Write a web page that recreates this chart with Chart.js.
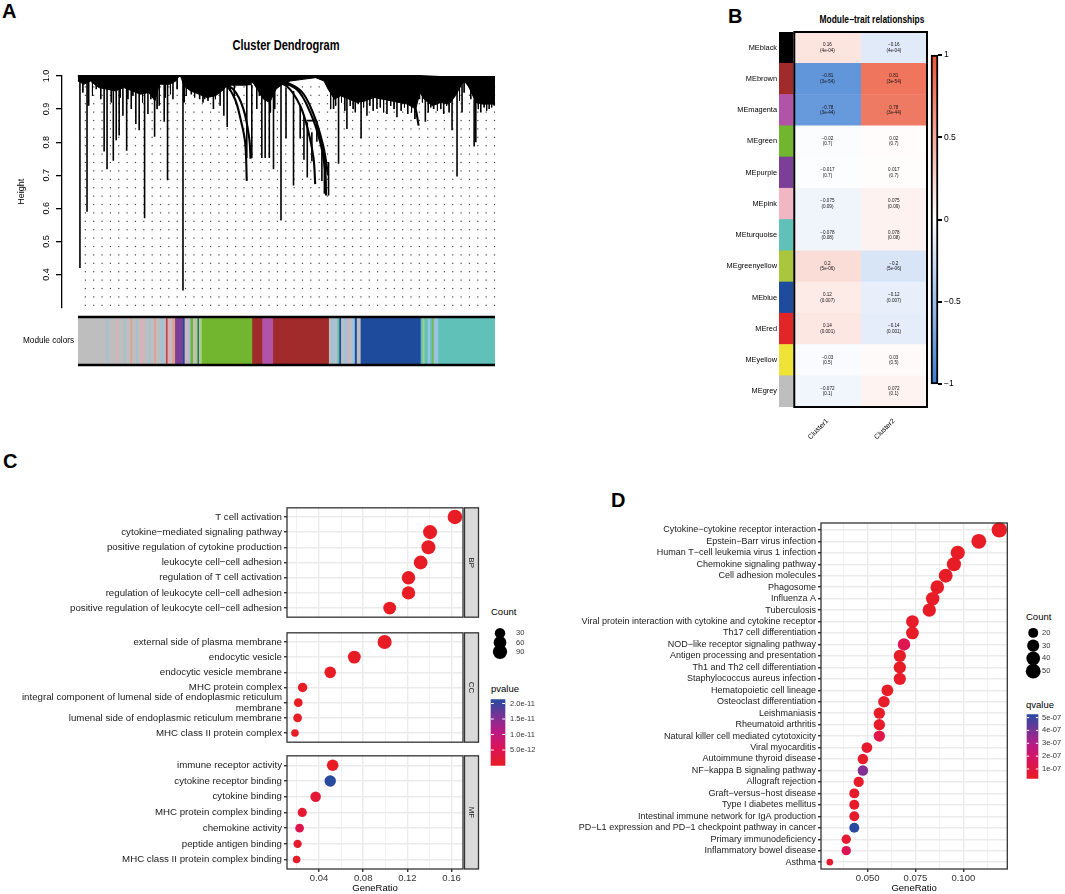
<!DOCTYPE html>
<html>
<head>
<meta charset="utf-8">
<title>WGCNA modules and enrichment</title>
<script src="https://cdn.jsdelivr.net/npm/chart.js@4.4.1/dist/chart.umd.min.js"></script>
<style>
  body { margin: 0; width: 1065px; height: 894px; position: relative; overflow: hidden; background: #fff;
         font-family: "Liberation Sans", Arial, sans-serif; color: #000; }
  canvas { position: absolute; }
  .txt { position: absolute; white-space: nowrap; line-height: 1; }
  .letter { font-weight: bold; font-size: 20px; }
</style>
</head>
<body>
<div class="txt letter" style="left:2px;top:1px">A</div>
<div class="txt letter" style="left:728px;top:6px">B</div>
<div class="txt letter" style="left:3px;top:451px">C</div>
<div class="txt letter" style="left:611px;top:490px">D</div>
<div class="txt" style="left:286px;top:38px;font-size:14px;font-weight:bold;transform:translateX(-50%) scaleX(0.79)">Cluster Dendrogram</div>
<div class="txt" style="left:872px;top:14px;font-size:10.5px;font-weight:bold;transform:translateX(-50%) scaleX(0.8)">Module−trait relationships</div>
<div class="txt" style="left:491px;top:607px;font-size:9.5px">Count</div>
<div class="txt" style="left:491px;top:684px;font-size:9.5px">pvalue</div>
<div class="txt" style="left:1026px;top:612px;font-size:9.5px">Count</div>
<div class="txt" style="left:1026px;top:700px;font-size:9.5px">qvalue</div>

<canvas id="dendro" width="500" height="256" style="left:0;top:60px"></canvas>
<canvas id="modules" width="500" height="66" style="left:0;top:308px"></canvas>
<canvas id="heat" width="216" height="420" style="left:715px;top:25px"></canvas>
<canvas id="heatKey" width="44" height="345" style="left:926px;top:48px"></canvas>
<canvas id="bp" width="481" height="125" style="left:0;top:500px"></canvas>
<canvas id="cc" width="481" height="125" style="left:0;top:625px"></canvas>
<canvas id="mf" width="481" height="146" style="left:0;top:748px"></canvas>
<canvas id="goCount" width="47" height="55" style="left:485px;top:615px"></canvas>
<canvas id="goP" width="60" height="85" style="left:485px;top:690px"></canvas>
<canvas id="kegg" width="440" height="379" style="left:575px;top:515px"></canvas>
<canvas id="keggCount" width="44" height="66" style="left:1020px;top:619px"></canvas>
<canvas id="keggQ" width="44" height="81" style="left:1021px;top:706px"></canvas>

<script>
// ---------- A: cluster dendrogram (x = leaf order in %, y = height) ----------
const heightTicks = [0.4, 0.5, 0.6, 0.7, 0.8, 0.9, 1.0];
const topX = [0, 82, 100];
const topY = [1.0, 1.0, 0.988];
const massX = [0, 1.5, 3, 5, 7, 9, 11, 13, 15, 17, 18.5, 19.5, 22, 23.5, 24.3, 24.6, 25.5, 27, 29, 31,
  33, 35, 36, 38, 40, 42, 43, 44.5, 46, 47.5, 49, 51, 54, 57, 59, 60, 61.5, 63, 65, 67,
  69, 71, 73, 75, 77, 79, 81, 82, 83, 85, 87, 89, 90.5, 92, 93, 94, 95.5, 97, 99, 100];
const massLow = [0.985, 0.975, 0.985, 0.965, 0.96, 0.955, 0.965, 0.955, 0.945, 0.95, 0.925, 0.975, 0.975, 0.985, 1.0, 1.0, 0.97, 0.955, 0.945, 0.935,
  0.94, 0.96, 0.975, 0.975, 0.975, 0.98, 0.96, 0.93, 0.92, 0.96, 0.975, 0.985, 0.99, 0.995, 0.985, 0.96, 0.93, 0.94, 0.93, 0.92,
  0.925, 0.935, 0.93, 0.925, 0.92, 0.915, 0.9, 0.95, 0.93, 0.91, 0.92, 0.915, 0.94, 0.975, 0.985, 0.96, 0.92, 0.915, 0.915, 0.915];
const dropX = [0.5, 2.2, 2.6, 4.4, 6.3, 7.0, 8.5, 9.2, 9.9, 10.8, 11.7, 12.8, 13.9, 14.7, 16.0, 16.8, 18.4, 19.5, 20.7, 21.5,
  22.8, 25.2, 25.5, 27.2, 29.2, 30.4, 32.5, 34.1, 35.0, 35.8, 40.5, 41.7, 42.9, 44.1, 44.9, 45.9, 46.9, 48.7, 49.9, 51.7,
  53.3, 54.2, 55.0, 56.1, 57.3, 58.5, 59.1, 60.1, 61.3, 62.5, 64.5, 66.5, 67.9, 69.3, 71.7, 74.1, 76.5, 79.1, 81.9, 83.3,
  85.3, 87.7, 89.7, 90.9, 92.1, 95.0, 95.4, 96.6, 98.6, 99.8];
const dropHigh = [0.995, 0.995, 0.995, 0.995, 0.995, 0.995, 0.995, 0.995, 0.995, 0.995, 0.995, 0.995, 0.995, 0.995, 0.995, 0.995, 0.995, 0.995, 0.995, 0.995,
  0.995, 0.995, 0.995, 0.995, 0.995, 0.995, 0.995, 0.995, 0.995, 0.97, 0.973, 0.973, 0.995, 0.995, 0.995, 0.995, 0.995, 0.975, 0.965, 0.955,
  0.91, 0.88, 0.86, 0.83, 0.865, 0.80, 0.75, 0.74, 0.995, 0.995, 0.995, 0.995, 0.995, 0.995, 0.995, 0.995, 0.995, 0.94, 0.988, 0.995,
  0.995, 0.995, 0.995, 0.995, 0.995, 0.93, 0.93, 0.995, 0.995, 0.995];
const dropLow = [0.420, 0.590, 0.91, 0.96, 0.772, 0.718, 0.744, 0.806, 0.82, 0.88, 0.774, 0.90, 0.855, 0.836, 0.570, 0.885, 0.816, 0.91, 0.862, 0.685,
  0.93, 0.352, 0.92, 0.944, 0.93, 0.93, 0.90, 0.91, 0.88, 0.846, 0.752, 0.752, 0.90, 0.752, 0.752, 0.752, 0.718, 0.563, 0.811, 0.669,
  0.811, 0.747, 0.693, 0.742, 0.801, 0.683, 0.644, 0.639, 0.90, 0.735, 0.84, 0.89, 0.811, 0.88, 0.90, 0.885, 0.875, 0.885, 0.93, 0.862,
  0.90, 0.885, 0.836, 0.696, 0.89, 0.787, 0.80, 0.89, 0.90, 0.91];
// thin hair branches hanging from the dense top band
const hairX = [1.2, 3.5, 5.5, 8.0, 10.2, 12.0, 13.2, 15.5, 17.5, 19.0, 21.0, 22.2, 23.8, 26.0, 28.0, 30.0, 31.2, 33.0, 36.5, 37.5,
  43.5, 46.2, 47.2, 60.6, 61.8, 63.2, 64.0, 65.3, 66.0, 67.2, 68.5, 70.0, 70.8, 72.5, 73.3, 75.0, 75.8, 77.5, 78.3, 80.0,
  80.8, 82.6, 84.0, 84.6, 86.2, 87.0, 88.4, 89.0, 91.5, 92.6, 94.2, 96.0, 97.4, 98.0, 99.2];
const hairLow = [0.95, 0.94, 0.93, 0.92, 0.935, 0.93, 0.94, 0.92, 0.93, 0.90, 0.935, 0.945, 0.96, 0.94, 0.935, 0.92, 0.925, 0.93, 0.955, 0.94,
  0.94, 0.89, 0.9, 0.9, 0.91, 0.92, 0.895, 0.91, 0.9, 0.915, 0.905, 0.91, 0.895, 0.905, 0.89, 0.91, 0.9, 0.895, 0.905, 0.89,
  0.87, 0.92, 0.89, 0.905, 0.895, 0.9, 0.91, 0.89, 0.925, 0.95, 0.93, 0.9, 0.905, 0.895, 0.905];
const mergeFrom = [35.5, 36.0, 71.7, 74.8, 54.8];
const mergeTo = [40.5, 41.7, 81.9, 81.9, 57.3];
const mergeAt = [0.973, 0.975, 0.988, 0.976, 0.865];
const arcPaths = [
  [[31.6, 0.993], [35.7, 0.969], [37.7, 0.929], [39.0, 0.87], [40.1, 0.80], [40.5, 0.683]],
  [[33.3, 0.988], [37.3, 0.959], [39.7, 0.90], [41.1, 0.81], [41.4, 0.75]],
  [[45.3, 0.993], [50.1, 0.969], [53.3, 0.91], [55.3, 0.83], [56.5, 0.752], [56.9, 0.673]],
  [[46.9, 0.99], [52.5, 0.959], [55.7, 0.89], [58.1, 0.80], [59.3, 0.713], [59.5, 0.639]],
  [[48.5, 0.99], [53.5, 0.955], [56.5, 0.885], [58.8, 0.79], [60.0, 0.70]],
  [[71.7, 0.996], [77.3, 0.969], [80.5, 0.919], [81.7, 0.85]],
  [[92.5, 0.99], [94.0, 0.965], [95.2, 0.93]]
];

// module colour bar under the tree (width in % of leaves)
const moduleWidths = [6.8, 0.4, 2.0, 0.3, 1.5, 0.3, 1.2, 0.4, 1.0, 0.3, 0.8, 0.5, 1.5, 0.4, 0.8, 0.4, 1.2, 0.6, 0.6, 0.4,
  0.5, 0.6, 0.7, 1.9, 0.4, 0.5, 0.4, 0.5, 0.6, 0.6, 0.5, 0.3, 0.7, 12.1, 2.4, 2.6, 13.4, 0.6, 0.8, 0.6,
  0.5, 0.4, 0.7, 0.8, 0.3, 0.8, 0.7, 0.5, 0.9, 14.4, 0.5, 0.4, 0.8, 0.6, 0.5, 0.3, 1.1, 13.7];
const moduleColors = ['grey', 'ltblue', 'grey', 'pink', 'grey', 'ltblue', 'grey', 'salmon', 'grey', 'ltblue', 'grey', 'pink', 'grey', 'ltblue', 'grey', 'salmon', 'grey', 'ltblue', 'grey', 'redbrown',
  'pink', 'grey', 'salmon', 'purple', 'blue', 'grey', 'pink', 'ltblue', 'green', 'grey', 'ltgreen', 'blue', 'ltgreen', 'green', 'brown', 'magenta', 'brown', 'grey', 'ltblue', 'grey',
  'turquoise', 'blue', 'grey', 'ltblue', 'pink', 'grey', 'ltblue', 'blue', 'grey', 'blue', 'turquoise', 'ltgreen', 'turquoise', 'ltblue', 'turquoise', 'green', 'ltblue', 'turquoise'];
const paletteHex = { grey: '#BEBEBE', ltblue: '#9CC2DC', pink: '#E6A9B9', salmon: '#DFA08E', redbrown: '#B5494A', purple: '#7B3F98',
  blue: '#1F4B9D', green: '#72B62F', ltgreen: '#A9D07A', brown: '#A12A2B', magenta: '#B154A7', turquoise: '#60C1B8' };

// ---------- B: module-trait relationships ----------
const modules = ['MEblack', 'MEbrown', 'MEmagenta', 'MEgreen', 'MEpurple', 'MEpink', 'MEturquoise', 'MEgreenyellow', 'MEblue', 'MEred', 'MEyellow', 'MEgrey'];
const moduleSwatch = ['#000000', '#A12A2B', '#B154A7', '#72B62F', '#7B3F98', '#F2B6C4', '#60C1B8', '#A9C63C', '#1F4B9D', '#E22526', '#EFE337', '#BEBEBE'];
const traits = ['Cluster1', 'Cluster2'];
const corCluster1 = [0.16, -0.81, -0.78, -0.02, -0.017, -0.075, -0.078, 0.2, 0.12, 0.14, -0.03, -0.072];
const corCluster2 = [-0.16, 0.81, 0.78, 0.02, 0.017, 0.075, 0.078, -0.2, -0.12, -0.14, 0.03, 0.072];
const pCluster = ['4e-04', '3e-54', '3e-44', '0.7', '0.7', '0.09', '0.08', '5e-06', '0.007', '0.001', '0.5', '0.1'];
const corTicks = [-1, -0.5, 0, 0.5, 1];

// ---------- C: GO enrichment ----------
const bpTerms = ['T cell activation', 'cytokine−mediated signaling pathway', 'positive regulation of cytokine production',
  'leukocyte cell−cell adhesion', 'regulation of T cell activation', 'regulation of leukocyte cell−cell adhesion',
  'positive regulation of leukocyte cell−cell adhesion'];
const bpRatio = [0.163, 0.1405, 0.139, 0.132, 0.121, 0.121, 0.104];
const bpCount = [97, 84, 83, 79, 72, 72, 62];
const bpP = [1e-45, 1e-38, 1e-37, 1e-36, 1e-35, 1e-34, 1e-30];
const ccTerms = ['external side of plasma membrane', 'endocytic vesicle', 'endocytic vesicle membrane', 'MHC protein complex',
  ['integral component of lumenal side of endoplasmic reticulum', 'membrane'], 'lumenal side of endoplasmic reticulum membrane',
  'MHC class II protein complex'];
const ccRatio = [0.0994, 0.072, 0.0502, 0.0252, 0.0213, 0.0207, 0.0183];
const ccCount = [86, 62, 43, 22, 18, 18, 16];
const ccP = [1e-30, 1e-22, 1e-18, 1e-19, 1e-16, 1e-16, 1e-15];
const mfTerms = ['immune receptor activity', 'cytokine receptor binding', 'cytokine binding', 'MHC protein complex binding',
  'chemokine activity', 'peptide antigen binding', 'MHC class II protein complex binding'];
const mfRatio = [0.0524, 0.0502, 0.037, 0.0249, 0.0225, 0.0207, 0.0198];
const mfCount = [43, 41, 30, 20, 18, 17, 16];
const mfP = [1e-16, 2.13e-11, 2e-12, 1.5e-12, 4.5e-12, 8e-13, 6e-13];
const goGrid = [0.02, 0.04, 0.06, 0.08, 0.10, 0.12, 0.14, 0.16];
const goMajor = [0.04, 0.08, 0.12, 0.16];
const countBreaksGO = [30, 60, 90];
const pBreaks = [5e-12, 1e-11, 1.5e-11, 2e-11];

// ---------- D: KEGG enrichment ----------
const keggTerms = ['Cytokine−cytokine receptor interaction', 'Epstein−Barr virus infection', 'Human T−cell leukemia virus 1 infection',
  'Chemokine signaling pathway', 'Cell adhesion molecules', 'Phagosome', 'Influenza A', 'Tuberculosis',
  'Viral protein interaction with cytokine and cytokine receptor', 'Th17 cell differentiation', 'NOD−like receptor signaling pathway',
  'Antigen processing and presentation', 'Th1 and Th2 cell differentiation', 'Staphylococcus aureus infection',
  'Hematopoietic cell lineage', 'Osteoclast differentiation', 'Leishmaniasis', 'Rheumatoid arthritis',
  'Natural killer cell mediated cytotoxicity', 'Viral myocarditis', 'Autoimmune thyroid disease', 'NF−kappa B signaling pathway',
  'Allograft rejection', 'Graft−versus−host disease', 'Type I diabetes mellitus', 'Intestinal immune network for IgA production',
  'PD−L1 expression and PD−1 checkpoint pathway in cancer', 'Primary immunodeficiency', 'Inflammatory bowel disease', 'Asthma'];
const keggRatio = [0.1188, 0.1081, 0.0971, 0.0951, 0.0908, 0.0864, 0.0840, 0.0822, 0.0734, 0.0734, 0.0690, 0.0668, 0.0668, 0.0668, 0.0603,
  0.0585, 0.0561, 0.0561, 0.0561, 0.0496, 0.0475, 0.0475, 0.0453, 0.0430, 0.0430, 0.0430, 0.0430, 0.0388, 0.0388, 0.0302];
const keggCount = [55, 50, 45, 44, 42, 40, 39, 38, 34, 34, 32, 31, 31, 31, 28, 27, 26, 26, 26, 23, 22, 22, 21, 20, 20, 20, 20, 18, 18, 14];
const keggQ = [2.6e-8, 3e-8, 3e-8, 3e-8, 3e-8, 3e-8, 3e-8, 3e-8, 4e-8, 3e-8, 1.4e-7, 3e-8, 3e-8, 4e-8, 3e-8,
  4e-8, 3e-8, 4e-8, 1.2e-7, 5e-8, 4e-8, 3.8e-7, 4e-8, 4e-8, 4e-8, 5e-8, 5.24e-7, 6e-8, 1.5e-7, 6e-8];
const keggGrid = [0.0375, 0.05, 0.0625, 0.075, 0.0875, 0.1, 0.1125];
const keggMajor = [0.05, 0.075, 0.1];
const countBreaksKegg = [20, 30, 40, 50];
const qBreaks = [1e-7, 2e-7, 3e-7, 4e-7, 5e-7];

// ---------- helpers ----------
Chart.defaults.font.family = '"Liberation Sans", Arial, sans-serif';
Chart.defaults.color = '#000';
const probe = document.createElement('canvas').getContext('2d');
function fontExists(name) {
  probe.font = '30px monospace';
  const base = probe.measureText('Module colors 0.5').width;
  probe.font = '30px "' + name + '", monospace';
  return probe.measureText('Module colors 0.5').width !== base;
}
const hasNarrow = fontExists('Liberation Sans Narrow');
const NARROW = hasNarrow ? '"Liberation Sans Narrow", sans-serif' : '"Liberation Sans", sans-serif';
const nk = hasNarrow ? 1 : 0.82;

const base = { responsive: false, animation: false, events: [] };
const noLegend = { legend: { display: false }, tooltip: { enabled: false } };
const minus = v => String(v).replace('-', '−');
const near = (list, v) => list.some(m => Math.abs(m - v) < 1e-9);

const corRed = [235, 85, 55], corBlue = [60, 125, 210];
function corColor(v) {
  const end = v > 0 ? corRed : corBlue, a = Math.abs(v);
  return 'rgb(' + end.map(c => Math.round(255 + (c - 255) * a)).join(',') + ')';
}
const rampStops = [[232, 28, 36], [220, 20, 85], [190, 25, 130], [120, 50, 150], [40, 75, 160]];
function ramp(t) {
  t = Math.max(0, Math.min(1, t));
  const s = t * (rampStops.length - 1), i = Math.min(Math.floor(s), rampStops.length - 2), f = s - i;
  return 'rgb(' + rampStops[i].map((c, k) => Math.round(c + (rampStops[i + 1][k] - c) * f)).join(',') + ')';
}
function rampGradient(ctx) {
  const a = ctx.chart.chartArea;
  if (!a) return '#e41a1c';
  const g = ctx.chart.ctx.createLinearGradient(0, a.bottom, 0, a.top);
  rampStops.forEach((c, i) => g.addColorStop(i / (rampStops.length - 1), 'rgb(' + c.join(',') + ')'));
  return g;
}
function dotRadius(c, cmin, cmax, rmin, rmax) {
  return rmin + (rmax - rmin) * Math.sqrt((c - cmin) / (cmax - cmin));
}
const goCounts = bpCount.concat(ccCount, mfCount);
const goCmin = Math.min(...goCounts), goCmax = Math.max(...goCounts);
const radiusGO = c => dotRadius(c, goCmin, goCmax, 3.8, 7.3);
const radiusKegg = c => dotRadius(c, Math.min(...keggCount), Math.max(...keggCount), 3.3, 7.7);
const goP = bpP.concat(ccP, mfP);
const pMin = Math.min(...goP), pMax = Math.max(...goP);
const qMin = Math.min(...keggQ), qMax = Math.max(...keggQ);

// ---------- plugins ----------
const dotTexture = {
  id: 'dotTexture',
  beforeDatasetsDraw(chart) {
    const { ctx, chartArea: a, scales: { x, y } } = chart;
    ctx.save();
    ctx.fillStyle = '#444';
    for (let px = x.getPixelForValue(1.8); px < a.right; px += 8.35) {
      for (let py = y.getPixelForValue(0.967); py < a.bottom - 2; py += 8.4) ctx.fillRect(px - 0.6, py - 0.6, 1.2, 1.2);
    }
    ctx.restore();
  }
};
const barEdges = {
  id: 'barEdges',
  afterDraw(chart) {
    const { ctx, chartArea: a } = chart;
    ctx.save();
    ctx.strokeStyle = '#000';
    ctx.lineWidth = 2.5;
    ctx.beginPath();
    ctx.moveTo(a.left, a.top); ctx.lineTo(a.right, a.top);
    ctx.moveTo(a.left, a.bottom); ctx.lineTo(a.right, a.bottom);
    ctx.stroke();
    ctx.restore();
  }
};
const cellText = {
  id: 'cellText',
  afterDatasetsDraw(chart) {
    const { ctx, chartArea: a, scales: { x } } = chart;
    ctx.save();
    ctx.fillStyle = '#111';
    ctx.font = '4.6px "Liberation Sans", sans-serif';
    ctx.textAlign = 'center';
    ctx.textBaseline = 'middle';
    [corCluster1, corCluster2].forEach((vals, d) => {
      chart.getDatasetMeta(d + 1).data.forEach((bar, i) => {
        const c = bar.getCenterPoint();
        ctx.fillText(minus(vals[i]), c.x, c.y - 2.8);
        ctx.fillText('(' + pCluster[i] + ')', c.x, c.y + 2.8);
      });
    });
    const x0 = x.getPixelForValue(0), x1 = x.getPixelForValue(traits.length);
    ctx.strokeStyle = '#000';
    ctx.lineWidth = 2;
    ctx.strokeRect(x0, a.top, x1 - x0, a.bottom - a.top);
    ctx.restore();
  }
};
const facetStrip = {
  id: 'facetStrip',
  afterDraw(chart, args, opts) {
    const { ctx, chartArea: a } = chart;
    ctx.save();
    ctx.strokeStyle = '#333';
    ctx.lineWidth = 1.3;
    ctx.strokeRect(a.left, a.top, a.right - a.left, a.bottom - a.top);
    if (opts.text) {
      ctx.fillStyle = '#D9D9D9';
      ctx.fillRect(a.right + 1.5, a.top, 14, a.bottom - a.top);
      ctx.strokeRect(a.right + 1.5, a.top, 14, a.bottom - a.top);
      ctx.translate(a.right + 8.5, (a.top + a.bottom) / 2);
      ctx.rotate(Math.PI / 2);
      ctx.fillStyle = '#1A1A1A';
      ctx.font = '8px "Liberation Sans", sans-serif';
      ctx.textAlign = 'center';
      ctx.textBaseline = 'middle';
      ctx.fillText(opts.text, 0, 0);
    }
    ctx.restore();
  }
};
const barTicks = {
  id: 'barTicks',
  afterDatasetsDraw(chart) {
    const { ctx, chartArea: a, scales: { y } } = chart;
    const w = (a.right - a.left) / 5;
    ctx.save();
    ctx.strokeStyle = '#fff';
    ctx.lineWidth = 1;
    y.ticks.forEach(t => {
      const py = y.getPixelForValue(t.value);
      ctx.beginPath();
      ctx.moveTo(a.left, py); ctx.lineTo(a.left + w, py);
      ctx.moveTo(a.right - w, py); ctx.lineTo(a.right, py);
      ctx.stroke();
    });
    ctx.restore();
  }
};

// ---------- A charts ----------
function segments(xs, highs, lows) {
  const out = [];
  xs.forEach((x, i) => out.push({ x, y: highs[i] }, { x, y: lows[i] }, { x, y: null }));
  return out;
}
const arcPoints = [];
arcPaths.forEach(p => { p.forEach(([x, y]) => arcPoints.push({ x, y })); arcPoints.push({ x: p[0][0], y: null }); });
const mergePoints = [];
mergeFrom.forEach((x, i) => mergePoints.push({ x, y: mergeAt[i] }, { x: mergeTo[i], y: mergeAt[i] }, { x, y: null }));

new Chart(document.getElementById('dendro'), {
  type: 'scatter',
  data: {
    datasets: [
      { type: 'line', data: massX.map((x, i) => ({ x, y: massLow[i] })), fill: { value: 1.0 }, backgroundColor: '#000',
        borderColor: '#000', borderWidth: 1, pointRadius: 0, tension: 0, clip: false },
      { data: topX.map((x, i) => ({ x, y: topY[i] })), showLine: true, borderColor: '#000', borderWidth: 2.2, pointRadius: 0, clip: false },
      { data: segments(hairX, hairX.map(() => 0.995), hairLow), showLine: true, borderColor: '#000', borderWidth: 1, pointRadius: 0, clip: false },
      { data: segments(dropX, dropHigh, dropLow), showLine: true, borderColor: '#000', borderWidth: 1.6, pointRadius: 0, clip: false },
      { data: arcPoints, showLine: true, borderColor: '#000', borderWidth: 2.1, tension: 0.35, pointRadius: 0, clip: false },
      { data: mergePoints, showLine: true, borderColor: '#000', borderWidth: 1.8, pointRadius: 0, clip: false }
    ]
  },
  options: {
    ...base,
    layout: { padding: { top: 16, right: 5, bottom: 3 } },
    plugins: noLegend,
    scales: {
      x: { display: false, min: -3.8, max: 100 },
      y: {
        min: 0.3, max: 1.0,
        afterBuildTicks: s => { s.ticks = heightTicks.map(v => ({ value: v })); },
        ticks: { callback: v => v.toFixed(1), minRotation: 90, maxRotation: 90, crossAlign: 'center',
          font: { family: NARROW, size: 11 * nk }, color: '#000', padding: 3 },
        grid: { drawOnChartArea: false, drawTicks: true, tickLength: 6, color: '#000', lineWidth: 1.3 },
        border: { display: true, color: '#000', width: 1.3 },
        title: { display: true, text: 'Height', font: { family: NARROW, size: 11 * nk }, color: '#000', padding: { top: 16, bottom: 0 } },
        afterFit: s => { s.width = 62; }
      }
    }
  },
  plugins: [dotTexture]
});

new Chart(document.getElementById('modules'), {
  type: 'bar',
  data: {
    labels: ['Module colors'],
    datasets: moduleWidths.map((w, i) => ({ data: [w], backgroundColor: paletteHex[moduleColors[i]],
      borderWidth: 0, barPercentage: 1, categoryPercentage: 1 }))
  },
  options: {
    ...base,
    indexAxis: 'y',
    layout: { padding: { top: 7, right: 5, bottom: 6 } },
    plugins: noLegend,
    scales: {
      x: { display: false, stacked: true, min: 0, max: 100 },
      y: { stacked: true, grid: { display: false, drawTicks: false }, border: { display: false },
        ticks: { font: { family: NARROW, size: 10 * nk }, color: '#000', padding: 4 },
        afterFit: s => { s.width = 78; } }
    }
  },
  plugins: [barEdges]
});

// ---------- B charts ----------
const bandOpts = { grouped: false, barPercentage: 1, categoryPercentage: 1, borderWidth: 0 };
new Chart(document.getElementById('heat'), {
  type: 'bar',
  data: {
    labels: modules,
    datasets: [
      { ...bandOpts, data: modules.map(() => [-0.23, -0.02]), backgroundColor: moduleSwatch },
      { ...bandOpts, data: modules.map(() => [0, 1]), backgroundColor: corCluster1.map(corColor) },
      { ...bandOpts, data: modules.map(() => [1, 2]), backgroundColor: corCluster2.map(corColor) }
    ]
  },
  options: {
    ...base,
    indexAxis: 'y',
    layout: { padding: { top: 7, right: 4 } },
    plugins: noLegend,
    scales: {
      x: {
        min: -0.23, max: traits.length,
        afterBuildTicks: s => { s.ticks = traits.map((t, i) => ({ value: i + 0.5 })); },
        ticks: { callback: (v, i) => traits[i], minRotation: 45, maxRotation: 45, autoSkip: false,
          font: { family: NARROW, size: 8.5 * nk }, color: '#000', padding: 2 },
        grid: { display: false }, border: { display: false },
        afterFit: s => { s.height = 38; }
      },
      y: {
        ticks: { autoSkip: false, font: { family: NARROW, size: 9 * nk }, color: '#000', padding: 2 },
        grid: { display: false, drawTicks: false }, border: { display: false },
        afterFit: s => { s.width = 64; }
      }
    }
  },
  plugins: [cellText]
});

new Chart(document.getElementById('heatKey'), {
  type: 'bar',
  data: {
    labels: ['r'],
    datasets: [{
      data: [[-1, 1]],
      backgroundColor: ctx => {
        const a = ctx.chart.chartArea;
        if (!a) return '#fff';
        const g = ctx.chart.ctx.createLinearGradient(0, a.bottom, 0, a.top);
        g.addColorStop(0, 'rgb(' + corBlue.join(',') + ')');
        g.addColorStop(0.5, '#fff');
        g.addColorStop(1, 'rgb(' + corRed.join(',') + ')');
        return g;
      },
      borderColor: '#000', borderWidth: 2, borderSkipped: false, barPercentage: 1, categoryPercentage: 1, clip: false
    }]
  },
  options: {
    ...base,
    layout: { padding: { left: 5, top: 7, bottom: 9 } },
    plugins: noLegend,
    scales: {
      x: { display: false },
      y: {
        position: 'right', min: -1, max: 1,
        afterBuildTicks: s => { s.ticks = corTicks.map(v => ({ value: v })); },
        ticks: { callback: v => minus(v), font: { size: 8.5 }, color: '#000', padding: 2 },
        grid: { drawOnChartArea: false, drawTicks: true, tickLength: 4, color: '#000', lineWidth: 2 },
        border: { display: false },
        afterFit: s => { s.width = 32; }
      }
    }
  }
});

// ---------- C charts ----------
function goPanel(id, terms, ratio, count, pval, strip, last, padTop) {
  return new Chart(document.getElementById(id), {
    type: 'scatter',
    data: {
      datasets: [{
        data: ratio.map((r, i) => ({ x: r, y: i + 1 })),
        pointRadius: count.map(radiusGO),
        pointBackgroundColor: pval.map(p => ramp((p - pMin) / (pMax - pMin))),
        pointBorderWidth: 0, clip: false
      }]
    },
    options: {
      ...base,
      layout: { padding: { top: padTop, bottom: last ? 0 : 2, right: 18 } },
      plugins: { ...noLegend, facetStrip: { text: strip } },
      scales: {
        x: {
          min: 0.0111, max: 0.1703,
          afterBuildTicks: s => { s.ticks = goGrid.map(v => ({ value: v })); },
          ticks: { display: last, autoSkip: false, maxRotation: 0, callback: v => near(goMajor, v) ? v.toFixed(2) : '',
            font: { size: 9.5 }, color: '#333', padding: 1 },
          grid: { color: '#EBEBEB', lineWidth: c => near(goMajor, c.tick.value) ? 1.4 : 0.7, drawTicks: last, tickLength: 3,
            tickColor: c => near(goMajor, c.tick.value) ? '#333' : 'rgba(0,0,0,0)' },
          border: { display: false },
          title: { display: last, text: 'GeneRatio', font: { size: 9.5 }, color: '#000', padding: { top: 1, bottom: 0 } },
          afterFit: s => { s.height = last ? 25 : 0; }
        },
        y: {
          min: 0.4, max: terms.length + 0.6, reverse: true,
          afterBuildTicks: s => { s.ticks = terms.map((t, i) => ({ value: i + 1 })); },
          ticks: { autoSkip: false, callback: v => terms[Math.round(v) - 1], font: { size: 9.7 }, color: '#1A1A1A', padding: 2 },
          grid: { color: '#EBEBEB', lineWidth: 1.4, drawTicks: true, tickLength: 3, tickColor: '#333' },
          border: { display: false },
          afterFit: s => { s.width = 287; }
        }
      }
    },
    plugins: [facetStrip]
  });
}
goPanel('bp', bpTerms, bpRatio, bpCount, bpP, 'BP', false, 6);
goPanel('cc', ccTerms, ccRatio, ccCount, ccP, 'CC', false, 4);
goPanel('mf', mfTerms, mfRatio, mfCount, mfP, 'MF', true, 4);

function countLegend(id, breaks, radiusFn, padLeft, padTop, labelPad) {
  return new Chart(document.getElementById(id), {
    type: 'scatter',
    data: { datasets: [{ data: breaks.map((b, i) => ({ x: 0, y: i + 1 })), pointRadius: breaks.map(radiusFn),
      pointBackgroundColor: '#000', pointBorderWidth: 0, clip: false }] },
    options: {
      ...base,
      layout: { padding: { left: padLeft, top: padTop, bottom: 3 } },
      plugins: noLegend,
      scales: {
        x: { display: false, min: -1, max: 1 },
        y: {
          position: 'right', min: 0.5, max: breaks.length + 0.5, reverse: true,
          afterBuildTicks: s => { s.ticks = breaks.map((b, i) => ({ value: i + 1 })); },
          ticks: { autoSkip: false, callback: v => breaks[Math.round(v) - 1], font: { size: 7.5 }, color: '#333', padding: labelPad },
          grid: { display: false, drawTicks: false }, border: { display: false },
          afterFit: s => { s.width = 25; }
        }
      }
    }
  });
}
function colourLegend(id, lo, hi, breaks, fmt, padLeft, padTop, padBottom, axisWidth, labelPad) {
  return new Chart(document.getElementById(id), {
    type: 'bar',
    data: { labels: ['k'], datasets: [{ data: [[lo, hi]], backgroundColor: rampGradient, borderWidth: 0,
      barPercentage: 1, categoryPercentage: 1, clip: false }] },
    options: {
      ...base,
      layout: { padding: { left: padLeft, top: padTop, bottom: padBottom } },
      plugins: noLegend,
      scales: {
        x: { display: false },
        y: {
          position: 'right', min: lo, max: hi,
          afterBuildTicks: s => { s.ticks = breaks.map(v => ({ value: v })); },
          ticks: { autoSkip: false, callback: fmt, font: { size: 7.5 }, color: '#333', padding: labelPad },
          grid: { display: false, drawTicks: false }, border: { display: false },
          afterFit: s => { s.width = axisWidth; }
        }
      }
    },
    plugins: [barTicks]
  });
}
countLegend('goCount', countBreaksGO, radiusGO, 8, 5, 9);
colourLegend('goP', pMin, pMax, pBreaks, v => v.toExponential(1), 6, 7, 8, 40, 5);

// ---------- D chart ----------
new Chart(document.getElementById('kegg'), {
  type: 'scatter',
  data: {
    datasets: [{
      data: keggRatio.map((r, i) => ({ x: r, y: i + 1 })),
      pointRadius: keggCount.map(radiusKegg),
      pointBackgroundColor: keggQ.map(q => ramp((q - qMin) / (qMax - qMin))),
      pointBorderWidth: 0, clip: false
    }]
  },
  options: {
    ...base,
    layout: { padding: { top: 8, right: 2 } },
    plugins: { ...noLegend, facetStrip: { text: '' } },
    scales: {
      x: {
        min: 0.0256, max: 0.123,
        afterBuildTicks: s => { s.ticks = keggGrid.map(v => ({ value: v })); },
        ticks: { autoSkip: false, maxRotation: 0, callback: v => near(keggMajor, v) ? v.toFixed(3) : '',
          font: { size: 9.5 }, color: '#333', padding: 1 },
        grid: { color: '#EBEBEB', lineWidth: c => near(keggMajor, c.tick.value) ? 1.4 : 0.7, drawTicks: true, tickLength: 3,
          tickColor: c => near(keggMajor, c.tick.value) ? '#333' : 'rgba(0,0,0,0)' },
        border: { display: false },
        title: { display: true, text: 'GeneRatio', font: { size: 9.5 }, color: '#000', padding: { top: 1, bottom: 0 } },
        afterFit: s => { s.height = 25; }
      },
      y: {
        min: 0.4, max: keggTerms.length + 0.6, reverse: true,
        afterBuildTicks: s => { s.ticks = keggTerms.map((t, i) => ({ value: i + 1 })); },
        ticks: { autoSkip: false, callback: v => keggTerms[Math.round(v) - 1], font: { size: 9 }, color: '#1A1A1A', padding: 2 },
        grid: { color: '#EBEBEB', lineWidth: 1.4, drawTicks: true, tickLength: 3, tickColor: '#333' },
        border: { display: false },
        afterFit: s => { s.width = 246; }
      }
    }
  },
  plugins: [facetStrip]
});
countLegend('keggCount', countBreaksKegg, radiusKegg, 7, 5, 3);
colourLegend('keggQ', qMin, qMax, qBreaks, v => v.toExponential(0).replace(/e-(\d)$/, 'e-0$1'), 6, 7, 6, 27, 4);
</script>
</body>
</html>
